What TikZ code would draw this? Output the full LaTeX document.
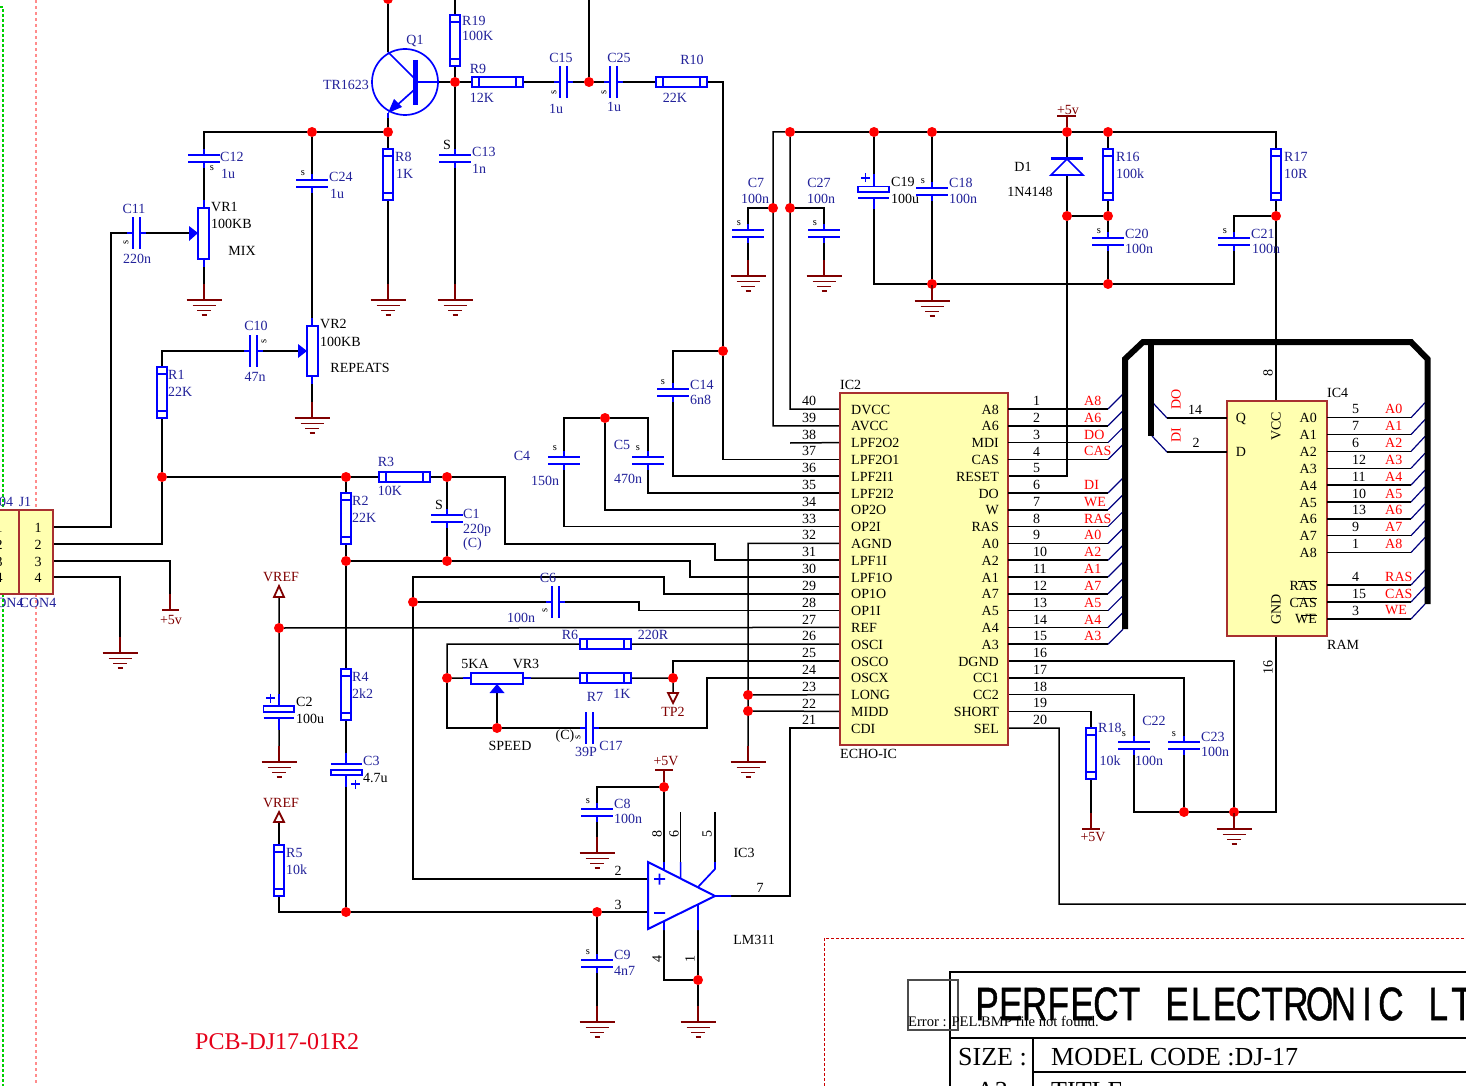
\documentclass[tikz,border=0pt]{standalone}
\usepackage{fontspec}
\setmainfont{Liberation Serif}
\newfontfamily\titlefont[FakeBold=1]{Liberation Sans}
\usepackage{graphicx}
\pgfdeclarelayer{back}
\pgfsetlayers{back,main}
\definecolor{navyb}{HTML}{22229A}
\definecolor{dred}{HTML}{800000}
\definecolor{pblue}{HTML}{0000FF}
\definecolor{icy}{HTML}{FFFFB0}
\definecolor{icb}{HTML}{A83030}
\definecolor{busn}{HTML}{000080}
\definecolor{sheetg}{HTML}{00D000}
\newcounter{lbl}
\tikzset{
 wire/.style={black,line width=1.5pt,line join=miter},
 part/.style={pblue,line width=1.7pt},
 pwr/.style={dred,line width=1.4pt},
 bus/.style={black,line width=6pt,line join=miter},
 ent/.style={busn,line width=1.2pt},
 jn/.style={circle,fill=red,draw=none,minimum size=10pt,inner sep=0pt},
 icbox/.style={draw=icb,fill=icy,line width=1.2pt,inner sep=0pt},
 lbl/.style={inner sep=0pt,yshift=-.5pt,font=\fontsize{14}{14}\selectfont},
 nv/.style={lbl,text=navyb},
 bk/.style={lbl,text=black},
 dr/.style={lbl,text=dred},
 rd/.style={lbl,text=red},
 sm/.style={lbl,text=black,font=\fontsize{10.5}{10.5}\selectfont},
 smr/.style={sm,rotate=90},
 br/.style={bk,rotate=90},
 L/.style={anchor=west}
}
\newcommand\TX[4][nv]{\stepcounter{lbl}\node[#1] (lab\arabic{lbl}) at (#2,#3) {#4};}
% vertical resistor
\newcommand\RV[3]{\draw[part] (#2-5,#3) rectangle (#2+5,#3+51);
 \draw[part] (#2-5,#3+7)--(#2+5,#3+7) (#2-5,#3+44)--(#2+5,#3+44);
 \coordinate (#1-a) at (#2,#3); \coordinate (#1-b) at (#2,#3+51);}
% horizontal resistor
\newcommand\RH[3]{\draw[part] (#2,#3-5) rectangle (#2+51,#3+5);
 \draw[part] (#2+7,#3-5)--(#2+7,#3+5) (#2+44,#3-5)--(#2+44,#3+5);
 \coordinate (#1-a) at (#2,#3); \coordinate (#1-b) at (#2+51,#3);}
% capacitor, plates horizontal
\newcommand\CV[3]{\draw[part] (#2-16,#3)--(#2+16,#3) (#2-16,#3+7)--(#2+16,#3+7) (#2,#3-6)--(#2,#3) (#2,#3+7)--(#2,#3+13);
 \coordinate (#1-a) at (#2,#3-6); \coordinate (#1-b) at (#2,#3+13);}
% capacitor, plates vertical
\newcommand\CH[3]{\draw[part] (#2,#3-16)--(#2,#3+16) (#2+7,#3-16)--(#2+7,#3+16) (#2-6,#3)--(#2,#3) (#2+7,#3)--(#2+13,#3);
 \coordinate (#1-a) at (#2-6,#3); \coordinate (#1-b) at (#2+13,#3);}
% ground
\newcommand\GND[3]{\draw[pwr] (#2,#3-16)--(#2,#3);
 \draw[dred,line width=1.8pt] (#2-17.5,#3)--(#2+17.5,#3) (#2-11.5,#3+5.5)--(#2+11.5,#3+5.5) (#2-7,#3+10.5)--(#2+7,#3+10.5) (#2-2.5,#3+15)--(#2+2.5,#3+15);
 \coordinate (#1) at (#2,#3-16);}
\newcommand\JN[3]{\node[jn] (#1) at (#2,#3) {};}
\newcommand\MC[1]{\hbox to 31.67pt{\hss#1\hss}}
\begin{document}
\begin{tikzpicture}[x=1pt,y=-1pt]
\useasboundingbox (0,0) rectangle (1466,1086);
\begin{pgfonlayer}{back}
\fill[white] (0,0) rectangle (1466,1086);
\draw[sheetg,densely dashed,line width=1.1pt] (0,7)--(3,7)--(3,1086);
\draw[red!45,dashed,line width=1.2pt] (36,0)--(36,1086);
\draw[red!80!black,densely dashed,line width=.8pt] (824,1086)--(824,938)--(1466,938);
\end{pgfonlayer}
\clip (0,0) rectangle (1466,1086);
% connector
\node[icbox,minimum width=34pt,minimum height=84pt] (J1box) at (36,552) {};
\node[icbox,minimum width=40pt,minimum height=84pt] (J0box) at (-1,552) {};
\foreach \n/\yy in {1/527,2/544,3/561,4/577}{
 \coordinate (J\n) at (53,\yy); \TX[bk]{38}{\yy}{\n} \TX[bk]{-1}{\yy}{\n}}
\TX{6}{501}{04} \TX{25}{501}{J1} \TX{10}{602}{ON4} \TX{38}{602}{CON4}
% junctions
\JN{jtop}{388}{-1} \JN{jB}{455}{82} \JN{j589}{589}{82} \JN{j312}{312}{132} \JN{j388}{388}{132}
\JN{j723}{723}{351} \JN{j605}{605}{418} \JN{j162}{162}{477} \JN{j346a}{346}{477} \JN{j447a}{447}{477}
\JN{j346b}{346}{561} \JN{j447b}{447}{561} \JN{j413}{413}{602} \JN{jref}{279}{628}
\JN{j447c}{447}{678} \JN{jTP}{673}{678} \JN{j497}{497}{728} \JN{j748a}{748}{695} \JN{j748b}{748}{711}
\JN{j664}{664}{787} \JN{j346c}{346}{912} \JN{j597}{597}{912} \JN{j698}{698}{980}
\JN{j790}{790}{132} \JN{j874}{874}{132} \JN{j932}{932}{132} \JN{j1067}{1067}{132} \JN{j1108}{1108}{132}
\JN{j773m}{773}{208} \JN{j790m}{790}{208} \JN{j1067b}{1067}{216} \JN{j1108m}{1108}{216} \JN{j1276}{1276}{216}
\JN{j932b}{932}{284} \JN{j1108b}{1108}{284} \JN{j1184}{1184}{812} \JN{j1234}{1234}{812}
% transistor
\draw[part] (405,82) circle[radius=33pt];
\draw[part] (388,52)--(414,78) (414,90)--(395,107) (415,82)--(438,82);
\draw[pblue,line width=5pt] (415,60)--(415,105);
\fill[pblue] (388,113)--(394,99)--(402,107)--cycle;
\draw[part] (388,113)--(388,118);
\coordinate (Qc) at (388,52); \coordinate (Qe) at (388,113); \coordinate (Qb) at (438,82);
% resistors
\RV{Rxix}{455}{15} \RH{Rix}{472}{82} \RH{Rx}{656}{82} \RV{Rviii}{388}{149}
\RV{Ri}{162}{367} \RH{Riii}{379}{477} \RV{Rii}{346}{493} \RV{Riv}{346}{669} \RV{Rv}{279}{845}
\RH{Rvi}{580}{644} \RH{Rvii}{580}{678} \RV{Rxvi}{1108}{149} \RV{Rxvii}{1276}{149} \RV{Rxviii}{1091}{728}
% capacitors
\CV{Cxii}{204}{155} \CV{Cxxiv}{312}{180} \CV{Cxiii}{455}{155} \CH{Cxi}{133}{233} \CH{Cxv}{560}{82} \CH{Cxxv}{610}{82}
\CH{Cx}{250}{351} \CV{Ci}{447}{515} \CH{Cvi}{552}{602} \CH{Cxvii}{586}{728}
\CV{Cvii}{748}{230} \CV{Cxxvii}{824}{230} \CV{Cxviii}{932}{188} \CV{Cxx}{1108}{238} \CV{Cxxi}{1234}{238}
\CV{Cxiv}{673}{389} \CV{Civ}{564}{457} \CV{Cv}{648}{457}
\CV{Cviii}{597}{809} \CV{Cix}{597}{960} \CV{Cxxii}{1134}{742} \CV{Cxxiii}{1184}{742}
% polarised capacitors
\draw[part] (858,186.5) rectangle (889,192) (858,198)--(889,198) (874,174)--(874,186.5) (874,198)--(874,209);
\draw[part] (861,178)--(870,178) (865.5,173.5)--(865.5,182.5);
\coordinate (Cxix-a) at (874,174); \coordinate (Cxix-b) at (874,209);
\draw[part] (263.5,706) rectangle (294,712) (263.5,718)--(294,718) (279,694)--(279,706) (279,718)--(279,730);
\draw[part] (266,698)--(275,698) (270.5,693.5)--(270.5,702.5);
\coordinate (Cii-a) at (279,694); \coordinate (Cii-b) at (279,730);
\draw[part] (331,764)--(362,764) (331,770) rectangle (362,775) (346,753)--(346,764) (346,775)--(346,787);
\draw[part] (351,784)--(360,784) (355.5,779.5)--(355.5,788.5);
\coordinate (Ciii-a) at (346,753); \coordinate (Ciii-b) at (346,787);
% pots
\draw[part] (198,208) rectangle (209,259) (204,200)--(204,208) (204,259)--(204,267);
\fill[pblue] (198,233)--(189,226)--(189,241)--cycle; \coordinate (VRi-a) at (204,200); \coordinate (VRi-b) at (204,267); \coordinate (VRi-w) at (189,233);
\draw[part] (307,326) rectangle (318,376) (312,318)--(312,326) (312,376)--(312,384);
\fill[pblue] (307,351)--(298,344)--(298,358)--cycle; \coordinate (VRii-a) at (312,318); \coordinate (VRii-b) at (312,384); \coordinate (VRii-w) at (298,351);
\draw[part] (471,673) rectangle (523,684) (463,678)--(471,678) (523,678)--(531,678);
\fill[pblue] (497,684)--(489.5,693)--(504.5,693)--cycle; \coordinate (VRiii-a) at (463,678); \coordinate (VRiii-b) at (531,678); \coordinate (VRiii-w) at (497,693);
% diode
\draw[pblue,line width=3pt] (1051,159)--(1083,159);
\draw[part] (1067,159)--(1083,175)--(1051,175)--cycle;
\coordinate (Da) at (1067,159); \coordinate (Db) at (1067,175);
% grounds
\GND{gVi}{204}{300} \GND{gRviii}{388}{300} \GND{gCxiii}{455}{300} \GND{gVii}{312}{418} \GND{gJ}{120}{653}
\GND{gCvii}{748}{276} \GND{gCxxvii}{824}{276} \GND{gC}{932}{301} \GND{gAG}{748}{762} \GND{gCii}{279}{762}
\GND{gCviii}{597}{853} \GND{gCix}{597}{1022} \GND{gA}{698}{1022} \GND{gR}{1234}{829}
% power flags
\draw[dred,line width=1.8pt] (162,610)--(179,610) (1057,116)--(1076,116) (655,770)--(673,770) (1082,829)--(1100,829);
\coordinate (pa) at (170,610); \coordinate (pb) at (1067,116); \coordinate (pc) at (664,770); \coordinate (pd) at (1091,829);
\draw[pwr] (170,594)--(pa) (pb)--(1067,127) (pc)--(664,782) (1091,813)--(pd);
\draw[dred,line width=1.8pt] (279,586)--(284,597)--(274,597)--cycle (279,812)--(284,822)--(274,822)--cycle (673,703)--(678,693)--(668,693)--cycle;
\coordinate (va) at (279,597); \coordinate (vb) at (279,822); \coordinate (vc) at (673,693);
% amplifier
\draw[pblue,line width=2pt,line join=miter] (648,862)--(715,896)--(648,929)--cycle;
\draw[part] (654,879)--(665,879) (659.5,873.5)--(659.5,884.5) (654,913)--(665,913) (664,862)--(664,870) (680.6,862)--(680.6,878) (715,862)--(715,869)--(698,887) (664,921)--(664,930) (698,904)--(698,930) (715,896)--(731,896);
\coordinate (ampP) at (648,879); \coordinate (ampN) at (648,912); \coordinate (ampO) at (731,896);
\coordinate (a8) at (664,862); \coordinate (a4) at (664,930); \coordinate (a1) at (698,930);
\coordinate (a6t) at (680.6,812); \coordinate (a6) at (680.6,862); \coordinate (a5t) at (715,812); \coordinate (a5) at (715,862);
% IC2
\node[icbox,minimum width=168pt,minimum height=352pt] (ic2) at (924,569) {};
\foreach \i/\n/\t in {0/40/DVCC,1/39/AVCC,2/38/LPF2O2,3/37/LPF2O1,4/36/LPF2I1,5/35/LPF2I2,6/34/OP2O,7/33/OP2I,8/32/AGND,9/31/LPF1I,10/30/LPF1O,11/29/OP1O,12/28/OP1I,13/27/REF,14/26/OSCI,15/25/OSCO,16/24/OSCX,17/23/LONG,18/22/MIDD,19/21/CDI}{
 \pgfmathsetmacro\yy{409+\i*16.8}
 \coordinate (PL\n) at (840,\yy);
 \TX[bk,L]{851}{\yy}{\t}
 \TX[bk,L]{802}{\yy-8.5}{\n}}
\foreach \i/\n/\t in {0/1/A8,1/2/A6,2/3/MDI,3/4/CAS,4/5/RESET,5/6/DO,6/7/W,7/8/RAS,8/9/A0,9/10/A2,10/11/A1,11/12/A7,12/13/A5,13/14/A4,14/15/A3,15/16/DGND,16/17/CC1,17/18/CC2,18/19/SHORT,19/20/SEL}{
 \pgfmathsetmacro\yy{409+\i*16.8}
 \coordinate (PR\n) at (1008,\yy);
 \TX[bk,anchor=east]{999}{\yy}{\t}
 \TX[bk,L]{1033}{\yy-8.5}{\n}}
\foreach \i/\t in {0/A8,1/A6,2/DO,3/CAS,5/DI,6/WE,7/RAS,8/A0,9/A2,10/A1,11/A7,12/A5,13/A4,14/A3}{
 \pgfmathsetmacro\yy{409+\i*16.8}
 \pgfmathsetmacro\pn{int(\i+1)}
 \coordinate (bu\pn) at (1108,\yy);
 \TX[rd,L]{1084}{\yy-8.5}{\t}
 \draw[ent] (bu\pn) -- ++(15,-15);
 \draw[wire] (PR\pn) -- (bu\pn);}
% IC4
\node[icbox,minimum width=100pt,minimum height=235pt] (ic4) at (1277,518.5) {};
\foreach \i/\n/\t/\u in {0/5/A0/A0,1/7/A1/A1,2/6/A2/A2,3/12/A3/A3,4/11/A4/A4,5/10/A5/A5,6/13/A6/A6,7/9/A7/A7,8/1/A8/A8}{
 \pgfmathsetmacro\yy{417.7+\i*16.85}
 \coordinate (mp\i) at (1327,\yy); \coordinate (mq\i) at (1411,\yy);
 \TX[bk,anchor=east]{1317}{\yy}{\t}
 \TX[bk,L]{1352}{\yy-9}{\n}
 \TX[rd,L]{1385}{\yy-9}{\u}
 \draw[ent] (mq\i) -- ++(14,-15);
 \draw[wire] (mp\i) -- (mq\i);}
\foreach \i/\yy/\n/\t in {9/585/4/RAS,10/602/15/CAS,11/619/3/WE}{
 \coordinate (mp\i) at (1327,\yy); \coordinate (mq\i) at (1411,\yy);
 \TX[bk,anchor=east]{1317}{\yy}{\t}
 \TX[bk,L]{1352}{\yy-9}{\n}
 \TX[rd,L]{1385}{\yy-9}{\t}
 \draw[ent] (mq\i) -- ++(14,-15);
 \draw[wire] (mp\i) -- (mq\i);}
\draw[black,line width=.9pt] (1298,581.5)--(1317,581.5) (1298,598.5)--(1317,598.5) (1301,615.5)--(1317,615.5);
\TX[bk]{1241}{418}{Q} \TX[bk]{1241}{451}{D}
\TX[br]{1276}{426}{VCC} \TX[br]{1276}{609}{GND}
\TX[br]{1268}{372}{8} \TX[br]{1268}{667}{16}
\TX[bk,L]{1327}{392}{IC4} \TX[bk,L]{1327}{644}{RAM}
\TX[bk]{1195}{409}{14} \TX[bk]{1196}{442}{2}
\TX[rd,rotate=90]{1176}{399}{DO} \TX[rd,rotate=90]{1176}{435}{DI}
\coordinate (mQ) at (1227,418); \coordinate (mQb) at (1167,418); \coordinate (mD) at (1227,452); \coordinate (mDb) at (1167,452);
\draw[ent] (mQb)--(1153,403);
\draw[ent] (mDb)--(1152,436);
\draw[wire] (mQb)--(mQ) (mDb)--(mD);
\coordinate (m8) at (1276,402); \coordinate (m16) at (1276,636);
% wires
\coordinate (t388) at (388,-1); \coordinate (t455) at (455,0); \coordinate (t589) at (589,0);
\begin{pgfonlayer}{back}
\draw[wire] (jtop)--(Qc) (Qe)--(j388) (j388)--(Rviii-a) (Rviii-b)--(gRviii);
\draw[wire] (t455)--(Rxix-a) (Rxix-b)--(jB) (Qb)--(jB) (jB)--(Rix-a) (jB)--(Cxiii-a) (Cxiii-b)--(gCxiii);
\draw[wire] (Rix-b)--(Cxv-a) (Cxv-b)--(j589) (j589)--(t589) (j589)--(Cxxv-a) (Cxxv-b)--(Rx-a);
\draw[wire] (Rx-b) -| (j723) (j723) |- (PL37);
\draw[wire] (j388)--(j312) (j312) -| (Cxii-a) (Cxii-b)--(VRi-a) (VRi-b)--(gVi);
\draw[wire] (j312)--(Cxxiv-a) (Cxxiv-b)--(VRii-a) (VRii-b)--(gVii);
\draw[wire] (J1) -| (111,233) -- (Cxi-a) (Cxi-b)--(VRi-w);
\draw[wire] (J2) -| (j162) (j162)--(Ri-b) (Ri-a) |- (Cx-a) (Cx-b)--(VRii-w);
\draw[wire] (J3) -| (pa) (J4) -| (gJ);
\draw[wire] (j162)--(j346a) (j346a)--(Riii-a) (Riii-b)--(j447a) (j346a)--(Rii-a) (Rii-b)--(j346b);
\draw[wire] (j447a)--(Ci-a) (Ci-b)--(j447b) (j346b)--(j447b);
\draw[wire] (j447a)--(505,477)--(505,544)--(715,544) |- (PL31);
\draw[wire] (j447b)--(690,561) |- (PL30);
\draw[wire] (PL29) -| (664,577)--(413,577)--(413,879)--(ampP);
\draw[wire] (PL28) -| (639,602)--(Cvi-b) (Cvi-a)--(j413);
\draw[wire] (PL27)--(jref) (jref)--(va) (jref)--(Cii-a) (Cii-b)--(gCii);
\draw[wire] (j346b)--(Riv-a) (Riv-b)--(Ciii-a) (Ciii-b)--(j346c);
\draw[wire] (PL26)--(Rvi-b) (Rvi-a) -| (j447c) (j447c)--(VRiii-a) (VRiii-b)--(Rvii-a) (Rvii-b)--(jTP) (jTP)--(vc);
\draw[wire] (PL25) -| (jTP);
\draw[wire] (j447c) |- (j497) (j497)--(VRiii-w) (j497)--(Cxvii-a) (Cxvii-b)--(707,728) |- (PL24);
\draw[wire] (PL32) -| (gAG) (PL23)--(j748a) (PL22)--(j748b);
\draw[wire] (PL21) -| (790,896)--(ampO);
\draw[wire] (vb)--(Rv-a) (Rv-b) |- (j346c) (j346c)--(j597) (j597)--(ampN) (j597)--(Cix-a) (Cix-b)--(gCix);
\draw[wire] (j664)--(a8) (j664) -| (Cviii-a) (Cviii-b)--(gCviii) (a6t)--(a6) (a5t)--(a5);
\draw[wire] (a4) |- (j698) (a1)--(j698) (j698)--(gA);
% supply rail
\draw[wire] (j790)--(773,132) |- (PL39) (j790) |- (PL40) (790,443)--(PL38);
\draw[wire] (j773m) -| (Cvii-a) (Cvii-b)--(gCvii) (j790m) -| (Cxxvii-a) (Cxxvii-b)--(gCxxvii);
\draw[wire] (j790)--(j874) (j874)--(j932) (j932)--(j1067) (j1067)--(j1108) (j1108) -| (Rxvii-a);
\draw[wire] (j874)--(Cxix-a) (Cxix-b) |- (j932b) (j932)--(Cxviii-a) (Cxviii-b)--(j932b) (j932b)--(gC);
\draw[wire] (j932b)--(j1108b) (j1108b) -| (Cxxi-b) (Cxxi-a) |- (j1276) (Rxvii-b)--(j1276) (j1276)--(m8);
\draw[wire] (j1067)--(Da) (Db)--(j1067b) (j1067b)--(j1108m) (j1067b) |- (PR5);
\draw[wire] (j1108)--(Rxvi-a) (Rxvi-b)--(j1108m) (j1108m)--(Cxx-a) (Cxx-b)--(j1108b);
\draw[wire] (PL36) -| (Cxiv-b) (Cxiv-a) |- (j723);
\draw[wire] (PL35) -| (Cv-b) (Cv-a) |- (j605) (j605) -| (Civ-a) (Civ-b) |- (PL33);
\draw[wire] (j605) |- (PL34);
\draw[wire] (PR16) -| (j1234) (PR17) -| (Cxxiii-a) (Cxxiii-b)--(j1184) (PR18) -| (Cxxii-a) (Cxxii-b) |- (j1184);
\draw[wire] (j1184)--(j1234) (j1234) -| (m16) (j1234)--(gR);
\draw[wire] (PR19) -| (Rxviii-a) (Rxviii-b)--(pd);
\draw[wire] (PR20) -- (1059,728.2) |- (1466,904);
\end{pgfonlayer}
% buses
\draw[bus] (1125,629)--(1125,359)--(1143,342)--(1411,342)--(1427.5,359)--(1427.5,604);
\draw[bus] (1150.7,342)--(1150.7,436);
% component labels
\TX{415}{41}{Q1} \TX{346}{84}{TR1623} \TX[nv,L]{462}{20}{R19} \TX[nv,L]{462}{35}{100K}
\TX{478}{68}{R9} \TX{482}{97}{12K} \TX{561}{57}{C15} \TX[smr]{554}{92}{s} \TX{556}{108}{1u}
\TX{619}{57}{C25} \TX[smr]{604}{92}{s} \TX{614}{106}{1u} \TX{692}{59}{R10} \TX{675}{97}{22K}
\TX[nv,L]{220}{156}{C12} \TX[sm]{212}{168}{s} \TX[nv,L]{221}{173}{1u}
\TX[nv,L]{329}{176}{C24} \TX[sm]{303}{173}{s} \TX[nv,L]{330}{193}{1u}
\TX[nv,L]{395}{156}{R8} \TX[nv,L]{396}{173}{1K}
\TX[bk]{447}{144}{S} \TX[nv,L]{472}{151}{C13} \TX[nv,L]{472}{168}{1n}
\TX{134}{208}{C11} \TX[smr]{126}{242}{s} \TX{137}{258}{220n}
\TX[bk,L]{211}{206}{VR1} \TX[bk,L]{211}{223}{100KB} \TX[bk]{242}{250}{MIX}
\TX[bk,L]{320}{323}{VR2} \TX[bk,L]{320}{341}{100KB} \TX[bk]{360}{367}{REPEATS}
\TX{256}{325}{C10} \TX[smr]{264}{341}{s} \TX{255}{376}{47n}
\TX[nv,L]{168}{374}{R1} \TX[nv,L]{168}{391}{22K}
\TX{386}{461}{R3} \TX{390}{490}{10K} \TX[nv,L]{352}{500}{R2} \TX[nv,L]{352}{517}{22K}
\TX[bk]{439}{504}{S} \TX[nv,L]{463}{513}{C1} \TX[nv,L]{463}{530}{220p} \TX[nv,L]{463}{544}{(C)}
\TX[nv,L]{352}{676}{R4} \TX[nv,L]{352}{693}{2k2}
\TX[bk,L]{296}{701}{C2} \TX[bk,L]{296}{718}{100u} \TX[nv,L]{363}{760}{C3} \TX[bk,L]{363}{777}{4.7u}
\TX[nv,L]{286}{852}{R5} \TX[nv,L]{286}{869}{10k}
\TX{548}{577}{C6} \TX{521}{617}{100n} \TX[smr]{545}{610}{s}
\TX{570}{634}{R6} \TX{653}{634}{220R} \TX[bk]{475}{663}{5KA} \TX[bk]{526}{663}{VR3}
\TX{595}{696}{R7} \TX{622}{693}{1K} \TX[dr]{673}{711}{TP2} \TX[bk]{510}{745}{SPEED}
\TX[bk]{565}{736}{(C)} \TX[smr]{578}{737}{s} \TX{586}{751}{39P} \TX{611}{745}{C17}
\TX[nv,L]{614}{803}{C8} \TX[nv,L]{614}{818}{100n} \TX[sm]{588}{801}{s}
\TX[nv,L]{614}{954}{C9} \TX[nv,L]{614}{970}{4n7} \TX[sm]{588}{952}{s}
\TX[br]{657}{833}{8} \TX[br]{674}{833}{6} \TX[br]{707}{833}{5}
\TX[bk]{618}{870}{2} \TX[bk]{618}{904}{3} \TX[bk]{744}{852}{IC3} \TX[bk]{754}{939}{LM311}
\TX[br]{657}{958}{4} \TX[br]{690}{958}{1} \TX[bk]{760}{887}{7}
\TX[bk,L]{840}{384}{IC2} \TX[bk,L]{840}{753}{ECHO-IC}
\TX{756}{182}{C7} \TX{755}{198}{100n} \TX[sm]{739}{223}{s}
\TX{819}{182}{C27} \TX{821}{198}{100n} \TX[sm]{815}{223}{s}
\TX[bk,L]{891}{181}{C19} \TX[bk,L]{891}{198}{100u} \TX[nv,L]{949}{182}{C18} \TX[nv,L]{949}{198}{100n} \TX[sm]{923}{181}{s}
\TX[bk]{1023}{166}{D1} \TX[bk]{1030}{191}{1N4148}
\TX[nv,L]{1116}{156}{R16} \TX[nv,L]{1116}{173}{100k} \TX[nv,L]{1284}{156}{R17} \TX[nv,L]{1284}{173}{10R}
\TX[nv,L]{1125}{233}{C20} \TX[nv,L]{1125}{248}{100n} \TX[sm]{1099}{231}{s}
\TX[nv,L]{1251}{233}{C21} \TX[nv,L]{1252}{248}{100n} \TX[sm]{1225}{231}{s}
\TX[nv,L]{690}{384}{C14} \TX[nv,L]{690}{399}{6n8} \TX[sm]{663}{382}{s}
\TX{522}{455}{C4} \TX{545}{480}{150n} \TX[sm]{555}{448}{s}
\TX{622}{444}{C5} \TX{628}{478}{470n} \TX[sm]{638}{448}{s}
\TX[nv,L]{1098}{727}{R18} \TX{1110}{760}{10k} \TX{1154}{720}{C22} \TX{1149}{760}{100n} \TX[sm]{1124}{734}{s}
\TX[nv,L]{1201}{736}{C23} \TX[nv,L]{1201}{751}{100n} \TX[sm]{1174}{734}{s}
\TX[dr]{281}{577}{VREF} \TX[dr]{281}{803}{VREF} \TX[dr]{171}{619}{+5v} \TX[dr]{1068}{109}{+5v} \TX[dr]{666}{761}{+5V} \TX[dr]{1093}{837}{+5V}
\node[inner sep=0pt,anchor=west,text=red!90!blue,font=\fontsize{24}{24}\selectfont] (pcbname) at (195,1042) {PCB-DJ17-01R2};
% title block
\draw[black,line width=1.2pt] (1466,972)--(950,972)--(950,1086) (950,1038)--(1466,1038) (1033,1038)--(1033,1086) (1033,1072)--(1466,1072);
\node[inner sep=0pt,anchor=west] (titletext) at (975,1004) {\titlefont\fontsize{47}{47}\selectfont\scalebox{.75}[1]{\MC P\MC E\MC R\MC F\MC E\MC C\MC T\MC{}\MC E\MC L\MC E\MC C\MC T\MC R\MC O\MC N\MC I\MC C\MC{}\MC L\MC T}};
\draw[black!70,line width=1.2pt] (908,980) rectangle (958,1030);
\TX[bk,L,font=\fontsize{14.6}{14.6}\selectfont]{908}{1021}{Error : PEL.BMP file not found.}
\node[inner sep=0pt,anchor=west,font=\fontsize{26}{26}\selectfont] (sizelab) at (958,1057) {SIZE :};
\node[inner sep=0pt,anchor=west,font=\fontsize{26}{26}\selectfont] (modelcode) at (1051,1057) {MODEL CODE :DJ-17};
\node[inner sep=0pt,font=\fontsize{26}{26}\selectfont] (sheetsize) at (992,1091) {A3};
\node[inner sep=0pt,anchor=west,font=\fontsize{26}{26}\selectfont] (titlelab) at (1051,1091) {TITLE};
\end{tikzpicture}
\end{document}
